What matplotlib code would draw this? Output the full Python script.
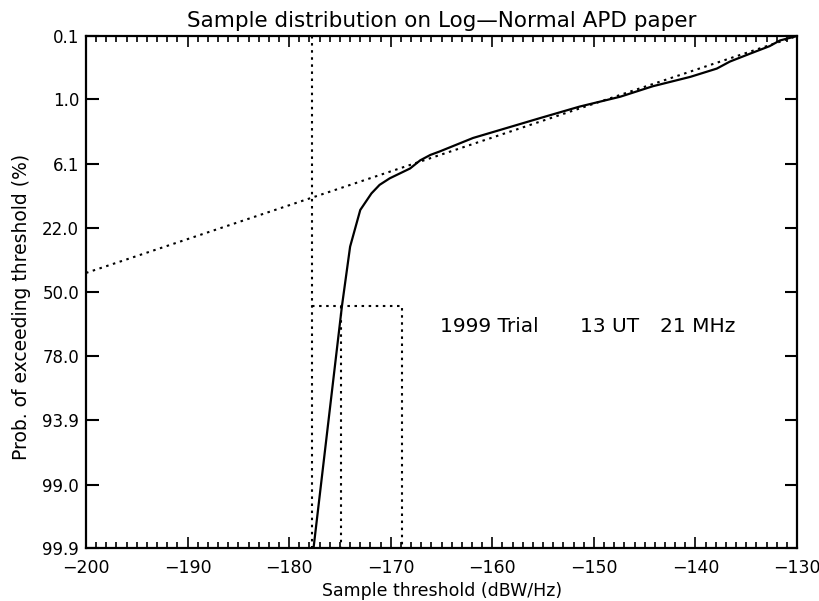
import math
import numpy as np
import matplotlib
matplotlib.use("Agg")
import matplotlib.pyplot as plt

# Sample APD curve (threshold in dBW/Hz, probability of exceeding in %)
thresh = [-177.6, -174.8, -174.0, -173.0, -171.9, -171.1, -170.1, -168.1, -167.1,
          -166.1, -165.2, -161.9, -158.6, -155.3, -151.4, -147.4, -144.2, -140.5,
          -137.9, -136.6, -134.6, -132.7, -131.7, -130.0]
prob = [99.9, 56.6, 29.2, 16.1, 11.7, 9.8, 8.5, 6.8, 5.6,
        4.9, 4.5, 3.15, 2.39, 1.79, 1.26, 0.92, 0.65, 0.47,
        0.35, 0.27, 0.20, 0.15, 0.12, 0.10]

# log-normal fit line end points
fit_x = [-200.0, -130.0]
fit_p = [40.9, 0.10]

# marker lines
vline_x = -177.8
box_x = [-177.8, -168.9]
box_top = 56.6
mid_x = -174.9

ytick_vals = [0.1, 1.0, 6.1, 22.0, 50.0, 78.0, 93.9, 99.0, 99.9]
ytick_labels = ["0.1", "1.0", "6.1", "22.0", "50.0", "78.0", "93.9", "99.0", "99.9"]

_erf = np.vectorize(math.erf, otypes=[float])


def cdf(z):
    z = np.asarray(z, dtype=float)
    return 50.0 * (1.0 + _erf(z / math.sqrt(2.0)))


def ppf(p):
    p = np.clip(np.asarray(p, dtype=float), 1e-9, 100 - 1e-9)
    lo = np.full(p.shape, -10.0)
    hi = np.full(p.shape, 10.0)
    for _ in range(60):
        mid = 0.5 * (lo + hi)
        below = cdf(mid) < p
        lo = np.where(below, mid, lo)
        hi = np.where(below, hi, mid)
    return 0.5 * (lo + hi)


fig = plt.figure(figsize=(8.2, 6.01), dpi=100)
ax = fig.add_axes([0.1049, 0.0882, 0.8671, 0.8519])
ax.set_yscale("function", functions=(ppf, cdf))

dot = (0, (1.2, 2.2))
ax.plot(thresh, prob, color="black", lw=1.6)
ax.plot(fit_x, fit_p, color="black", lw=1.5, linestyle=dot)
ax.plot([vline_x, vline_x], [0.1, 99.9], color="black", lw=1.5, linestyle=dot)
ax.plot([box_x[0], box_x[1], box_x[1]], [box_top, box_top, 99.9],
        color="black", lw=1.5, linestyle=dot)
ax.plot([mid_x, mid_x], [box_top, 99.9], color="black", lw=1.5, linestyle=dot)

# annotation, split in three pieces as spaced on the original
for xt, s in [(-165.15, "1999 Trial"), (-151.4, "13 UT"), (-143.5, "21 MHz")]:
    ax.text(xt, 66.3, s, fontsize=14.5, va="center", ha="left")

lim = float(cdf(3.09))
ax.set_xlim(-200, -130)
ax.set_ylim(lim, 100 - lim)
ax.set_xticks(np.arange(-200, -129, 10))
ax.set_xticks(np.arange(-200, -129, 1), minor=True)
ax.set_yticks(ytick_vals)
ax.set_yticklabels(ytick_labels)
ax.yaxis.set_minor_locator(matplotlib.ticker.NullLocator())

ax.tick_params(axis="x", which="both", direction="in", top=True, bottom=True,
               labelsize=12.5, pad=8, width=1.2)
ax.tick_params(axis="x", which="major", length=8)
ax.tick_params(axis="x", which="minor", length=4)
ax.tick_params(axis="y", which="major", direction="in", left=True, right=True,
               length=9, width=1.5, labelsize=12, pad=5)
for s in ax.spines.values():
    s.set_linewidth(1.6)

ax.set_xlabel("Sample threshold (dBW/Hz)", fontsize=12.5)
ax.set_ylabel("Prob. of exceeding threshold (%)", fontsize=13.5)
ax.xaxis.set_label_coords((442 - 86) / 711, -(582 - 548) / 512)
ax.yaxis.set_label_coords(-(86 - 31) / 711, (548 - 307) / 512)
ax.set_title("Sample distribution on Log\u2014Normal APD paper", fontsize=15.5,
             y=1 + (36 - 21) / 512, va="center", pad=0)

fig.savefig("out.png", dpi=100)
